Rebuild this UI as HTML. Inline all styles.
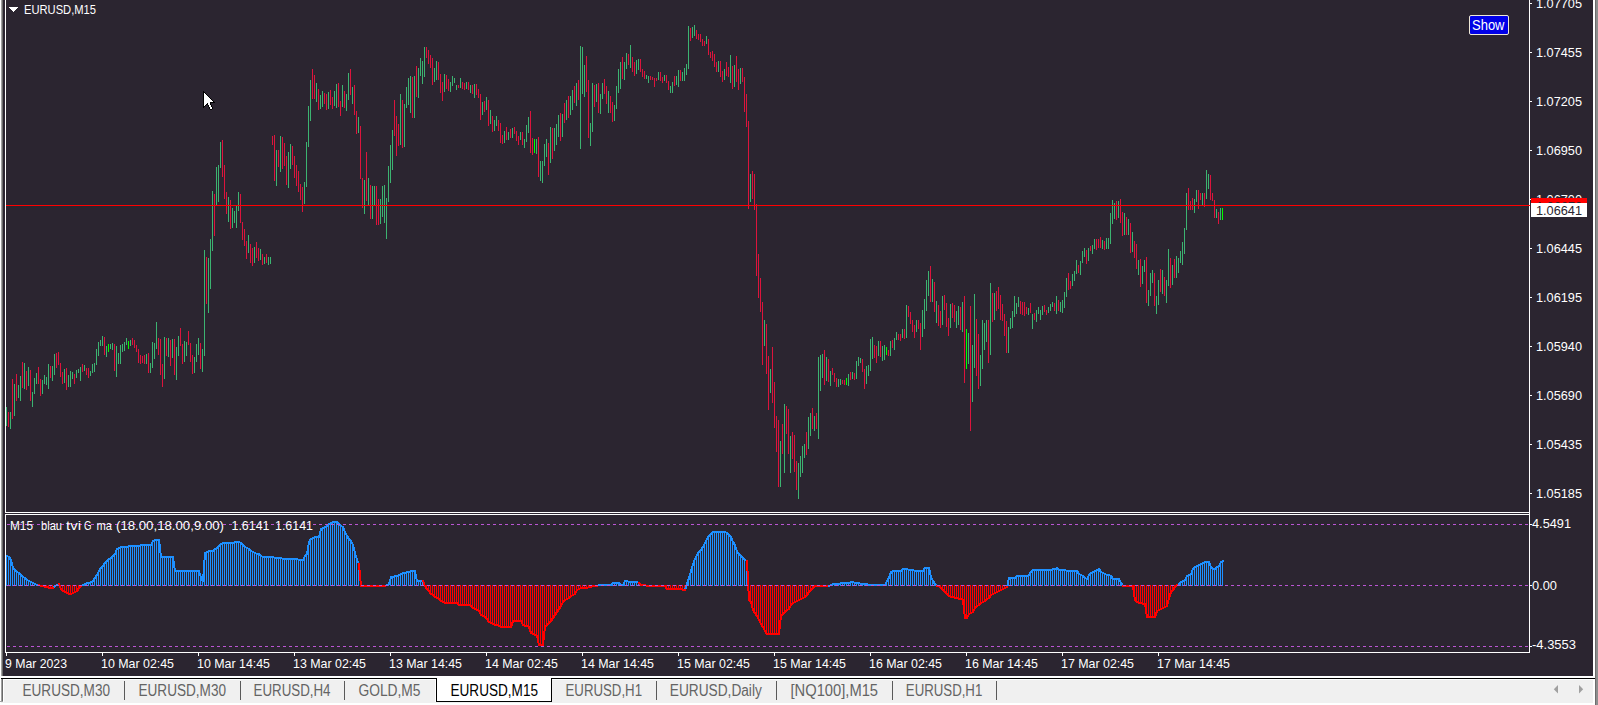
<!DOCTYPE html><html><head><meta charset="utf-8"><title>EURUSD,M15</title>
<style>html,body{margin:0;padding:0;background:#f0f0f0;overflow:hidden}svg{display:block;position:absolute;left:0;top:0}text{font-family:"Liberation Sans", sans-serif;white-space:pre}</style></head><body>
<svg width="1598" height="705" viewBox="0 0 1598 705">
<rect width="1598" height="705" fill="#f0f0f0"/>
<g shape-rendering="crispEdges">
<rect x="0" y="0" width="1" height="705" fill="#ffffff"/>
<rect x="1" y="0" width="1" height="702" fill="#a0a0a0"/>
<rect x="2" y="0" width="1" height="702" fill="#696969"/>
<rect x="0" y="701" width="3" height="1" fill="#a0a0a0"/>
<rect x="3" y="0" width="1590" height="676" fill="#2b2530"/>
<rect x="1593" y="0" width="2" height="705" fill="#ffffff"/>
<rect x="1595" y="0" width="1" height="705" fill="#6d6d6d"/>
<rect x="1596" y="0" width="2" height="705" fill="#8e8e8e"/>
<rect x="0" y="676" width="1595" height="2" fill="#ffffff"/>
<rect x="1" y="678" width="1594" height="1" fill="#000000"/>
<rect x="3" y="679" width="1592" height="1" fill="#ffffff"/>
<rect x="3" y="680" width="1" height="22" fill="#ffffff"/>
<rect x="0" y="703" width="1595" height="2" fill="#ffffff"/>
<rect x="435" y="679" width="1" height="23" fill="#ffffff"/>
<rect x="436" y="678" width="116" height="24" fill="#000000"/>
<rect x="437" y="676" width="114" height="25" fill="#ffffff"/>
<rect x="124" y="681" width="1" height="19" fill="#5a5a5a"/>
<rect x="240" y="681" width="1" height="19" fill="#5a5a5a"/>
<rect x="344" y="681" width="1" height="19" fill="#5a5a5a"/>
<rect x="656" y="681" width="1" height="19" fill="#5a5a5a"/>
<rect x="776" y="681" width="1" height="19" fill="#5a5a5a"/>
<rect x="892" y="681" width="1" height="19" fill="#5a5a5a"/>
<rect x="996" y="681" width="1" height="19" fill="#5a5a5a"/>
<path d="M1558 685v8.5l-4.2-4.25z" fill="#a0a0a0" shape-rendering="auto"/>
<path d="M1579 685v8.5l4.2-4.25z" fill="#a0a0a0" shape-rendering="auto"/>
<rect x="5" y="0" width="1" height="513" fill="#fff"/>
<rect x="5" y="514" width="1" height="139" fill="#fff"/>
<rect x="5" y="512" width="1525" height="1" fill="#fff"/>
<rect x="5" y="514" width="1525" height="1" fill="#fff"/>
<rect x="5" y="652" width="1525" height="1" fill="#fff"/>
<rect x="1529" y="0" width="1" height="653" fill="#fff"/>
<rect x="1530" y="3" width="2" height="1" fill="#fff"/>
<rect x="1530" y="52" width="2" height="1" fill="#fff"/>
<rect x="1530" y="101" width="2" height="1" fill="#fff"/>
<rect x="1530" y="150" width="2" height="1" fill="#fff"/>
<rect x="1530" y="199" width="2" height="1" fill="#fff"/>
<rect x="1530" y="248" width="2" height="1" fill="#fff"/>
<rect x="1530" y="297" width="2" height="1" fill="#fff"/>
<rect x="1530" y="346" width="2" height="1" fill="#fff"/>
<rect x="1530" y="395" width="2" height="1" fill="#fff"/>
<rect x="1530" y="444" width="2" height="1" fill="#fff"/>
<rect x="1530" y="493" width="2" height="1" fill="#fff"/>
<rect x="1530" y="524" width="2" height="1" fill="#fff"/>
<rect x="1530" y="585" width="2" height="1" fill="#fff"/>
<rect x="1530" y="646" width="2" height="1" fill="#fff"/>
<rect x="6" y="653" width="1" height="3" fill="#fff"/>
<rect x="102" y="653" width="1" height="3" fill="#fff"/>
<rect x="198" y="653" width="1" height="3" fill="#fff"/>
<rect x="294" y="653" width="1" height="3" fill="#fff"/>
<rect x="390" y="653" width="1" height="3" fill="#fff"/>
<rect x="486" y="653" width="1" height="3" fill="#fff"/>
<rect x="582" y="653" width="1" height="3" fill="#fff"/>
<rect x="678" y="653" width="1" height="3" fill="#fff"/>
<rect x="774" y="653" width="1" height="3" fill="#fff"/>
<rect x="870" y="653" width="1" height="3" fill="#fff"/>
<rect x="966" y="653" width="1" height="3" fill="#fff"/>
<rect x="1062" y="653" width="1" height="3" fill="#fff"/>
<rect x="1158" y="653" width="1" height="3" fill="#fff"/>
<path d="M6 407h1v19h-1zM10 412h1v17h-1zM14 384h1v32h-1zM18 385h1v13h-1zM20 376h1v25h-1zM24 363h1v26h-1zM28 367h1v19h-1zM32 392h1v15h-1zM34 378h1v16h-1zM36 373h1v11h-1zM42 380h1v14h-1zM44 375h1v9h-1zM46 377h1v8h-1zM48 364h1v25h-1zM52 366h1v15h-1zM54 354h1v21h-1zM64 369h1v14h-1zM68 375h1v12h-1zM70 371h1v16h-1zM72 372h1v7h-1zM76 370h1v8h-1zM78 369h1v4h-1zM80 367h1v14h-1zM84 365h1v6h-1zM90 371h1v5h-1zM92 364h1v9h-1zM94 363h1v9h-1zM96 349h1v16h-1zM98 342h1v14h-1zM100 340h1v6h-1zM102 336h1v10h-1zM106 346h1v11h-1zM110 344h1v5h-1zM112 343h1v7h-1zM116 346h1v31h-1zM118 353h1v11h-1zM120 345h1v19h-1zM122 344h1v8h-1zM124 342h1v9h-1zM126 338h1v7h-1zM130 340h1v6h-1zM146 354h1v10h-1zM150 363h1v10h-1zM152 342h1v26h-1zM154 343h1v16h-1zM156 322h1v27h-1zM164 337h1v42h-1zM168 338h1v19h-1zM172 339h1v19h-1zM176 347h1v33h-1zM178 336h1v20h-1zM184 341h1v21h-1zM186 342h1v14h-1zM194 357h1v16h-1zM196 344h1v18h-1zM198 338h1v17h-1zM202 349h1v23h-1zM204 250h1v106h-1zM208 258h1v55h-1zM210 239h1v50h-1zM212 191h1v60h-1zM216 167h1v39h-1zM218 165h1v37h-1zM220 142h1v26h-1zM228 197h1v25h-1zM232 208h1v20h-1zM234 211h1v12h-1zM236 205h1v23h-1zM238 192h1v19h-1zM248 235h1v18h-1zM254 247h1v16h-1zM260 249h1v11h-1zM264 257h1v7h-1zM268 257h1v8h-1zM270 257h1v7h-1zM276 150h1v36h-1zM280 136h1v36h-1zM288 152h1v36h-1zM290 144h1v25h-1zM304 182h1v22h-1zM306 142h1v45h-1zM308 106h1v41h-1zM310 80h1v41h-1zM316 83h1v19h-1zM320 95h1v14h-1zM322 91h1v16h-1zM328 92h1v17h-1zM334 91h1v15h-1zM336 84h1v24h-1zM342 85h1v22h-1zM346 94h1v17h-1zM348 73h1v27h-1zM352 87h1v17h-1zM358 117h1v16h-1zM364 180h1v34h-1zM368 178h1v27h-1zM372 186h1v33h-1zM374 186h1v20h-1zM380 199h1v25h-1zM382 186h1v31h-1zM384 185h1v38h-1zM386 198h1v41h-1zM388 166h1v36h-1zM390 145h1v38h-1zM392 130h1v40h-1zM400 94h1v51h-1zM404 104h1v43h-1zM406 87h1v21h-1zM408 78h1v27h-1zM410 76h1v37h-1zM414 76h1v42h-1zM418 68h1v30h-1zM420 58h1v18h-1zM422 61h1v23h-1zM424 47h1v30h-1zM434 68h1v14h-1zM436 61h1v19h-1zM444 74h1v18h-1zM450 82h1v10h-1zM452 76h1v10h-1zM454 78h1v5h-1zM456 85h1v5h-1zM460 78h1v10h-1zM466 82h1v7h-1zM470 85h1v8h-1zM474 84h1v14h-1zM482 102h1v13h-1zM486 97h1v13h-1zM490 110h1v14h-1zM494 120h1v11h-1zM496 116h1v10h-1zM504 131h1v12h-1zM508 132h1v8h-1zM512 128h1v10h-1zM520 132h1v8h-1zM524 139h1v9h-1zM526 125h1v17h-1zM528 117h1v16h-1zM536 139h1v15h-1zM540 161h1v20h-1zM542 161h1v22h-1zM544 144h1v22h-1zM546 139h1v18h-1zM550 127h1v36h-1zM554 128h1v23h-1zM556 124h1v21h-1zM558 115h1v22h-1zM562 114h1v23h-1zM566 100h1v20h-1zM570 96h1v19h-1zM572 90h1v20h-1zM576 83h1v23h-1zM580 46h1v103h-1zM582 47h1v47h-1zM584 65h1v32h-1zM590 123h1v23h-1zM592 83h1v49h-1zM596 84h1v18h-1zM600 94h1v20h-1zM602 83h1v16h-1zM608 91h1v22h-1zM614 105h1v16h-1zM616 86h1v23h-1zM618 69h1v24h-1zM620 62h1v27h-1zM624 62h1v18h-1zM626 53h1v16h-1zM630 45h1v23h-1zM636 60h1v14h-1zM638 59h1v11h-1zM646 75h1v4h-1zM648 76h1v7h-1zM658 72h1v8h-1zM664 75h1v6h-1zM670 86h1v7h-1zM672 82h1v11h-1zM676 76h1v9h-1zM678 70h1v17h-1zM682 72h1v9h-1zM684 68h1v13h-1zM686 64h1v11h-1zM688 26h1v43h-1zM692 27h1v11h-1zM694 25h1v11h-1zM706 36h1v8h-1zM718 61h1v11h-1zM724 69h1v11h-1zM730 55h1v28h-1zM734 65h1v22h-1zM740 68h1v16h-1zM750 174h1v28h-1zM764 320h1v26h-1zM770 369h1v24h-1zM780 441h1v46h-1zM784 404h1v69h-1zM790 436h1v37h-1zM798 463h1v36h-1zM800 456h1v21h-1zM802 446h1v27h-1zM804 444h1v14h-1zM808 417h1v32h-1zM810 413h1v23h-1zM814 416h1v15h-1zM818 357h1v82h-1zM820 355h1v36h-1zM822 354h1v24h-1zM826 357h1v24h-1zM830 371h1v15h-1zM838 379h1v8h-1zM840 379h1v6h-1zM848 374h1v12h-1zM852 372h1v7h-1zM856 361h1v18h-1zM858 357h1v9h-1zM860 358h1v5h-1zM866 366h1v18h-1zM868 365h1v11h-1zM870 339h1v32h-1zM872 337h1v22h-1zM878 341h1v15h-1zM882 346h1v15h-1zM884 345h1v15h-1zM890 341h1v15h-1zM894 338h1v12h-1zM896 332h1v8h-1zM902 329h1v9h-1zM906 305h1v33h-1zM916 320h1v12h-1zM922 310h1v27h-1zM924 299h1v30h-1zM926 280h1v31h-1zM928 271h1v25h-1zM932 279h1v23h-1zM936 301h1v22h-1zM942 296h1v29h-1zM950 304h1v24h-1zM956 311h1v17h-1zM958 306h1v19h-1zM962 302h1v30h-1zM968 333h1v31h-1zM972 345h1v57h-1zM974 294h1v74h-1zM980 355h1v31h-1zM982 320h1v49h-1zM984 323h1v27h-1zM986 320h1v22h-1zM990 283h1v72h-1zM994 293h1v27h-1zM1008 327h1v26h-1zM1010 318h1v11h-1zM1012 311h1v17h-1zM1014 296h1v21h-1zM1016 303h1v11h-1zM1018 297h1v10h-1zM1028 308h1v7h-1zM1032 314h1v15h-1zM1036 310h1v12h-1zM1038 307h1v7h-1zM1040 310h1v10h-1zM1042 306h1v9h-1zM1048 307h1v6h-1zM1050 304h1v7h-1zM1052 302h1v5h-1zM1056 296h1v18h-1zM1060 302h1v10h-1zM1062 300h1v13h-1zM1064 292h1v16h-1zM1066 278h1v19h-1zM1072 274h1v12h-1zM1074 271h1v10h-1zM1076 260h1v14h-1zM1080 261h1v14h-1zM1082 251h1v12h-1zM1084 248h1v9h-1zM1088 248h1v13h-1zM1092 245h1v9h-1zM1094 239h1v10h-1zM1102 240h1v9h-1zM1106 238h1v11h-1zM1108 238h1v11h-1zM1110 213h1v31h-1zM1112 200h1v24h-1zM1114 203h1v16h-1zM1118 201h1v17h-1zM1124 213h1v22h-1zM1128 219h1v16h-1zM1132 232h1v20h-1zM1138 260h1v15h-1zM1142 266h1v18h-1zM1144 260h1v12h-1zM1148 290h1v16h-1zM1150 273h1v23h-1zM1152 270h1v13h-1zM1156 296h1v18h-1zM1158 280h1v25h-1zM1162 270h1v24h-1zM1166 280h1v23h-1zM1168 249h1v37h-1zM1172 265h1v20h-1zM1176 256h1v22h-1zM1178 258h1v15h-1zM1180 251h1v12h-1zM1182 242h1v23h-1zM1184 228h1v26h-1zM1186 193h1v37h-1zM1194 199h1v14h-1zM1196 190h1v12h-1zM1202 193h1v12h-1zM1206 170h1v29h-1zM1208 174h1v15h-1zM1216 209h1v9h-1zM1220 208h1v12h-1z" fill="#3cb371"/>
<path d="M8 412h1v15h-1zM12 379h1v40h-1zM16 374h1v27h-1zM22 362h1v26h-1zM26 371h1v19h-1zM30 370h1v31h-1zM38 367h1v17h-1zM40 379h1v17h-1zM50 366h1v12h-1zM56 353h1v15h-1zM58 352h1v13h-1zM60 363h1v14h-1zM62 372h1v12h-1zM66 368h1v22h-1zM74 374h1v10h-1zM82 364h1v8h-1zM86 368h1v7h-1zM88 368h1v10h-1zM104 337h1v18h-1zM114 344h1v27h-1zM132 338h1v7h-1zM134 340h1v8h-1zM136 345h1v7h-1zM138 349h1v14h-1zM140 355h1v9h-1zM142 356h1v7h-1zM144 355h1v9h-1zM148 353h1v20h-1zM158 338h1v17h-1zM160 339h1v36h-1zM162 364h1v23h-1zM166 338h1v18h-1zM170 340h1v26h-1zM174 339h1v36h-1zM180 328h1v18h-1zM182 344h1v20h-1zM188 331h1v14h-1zM190 343h1v19h-1zM192 355h1v19h-1zM200 343h1v26h-1zM206 257h1v47h-1zM214 194h1v42h-1zM222 140h1v37h-1zM224 165h1v34h-1zM226 192h1v22h-1zM230 200h1v29h-1zM240 194h1v29h-1zM242 222h1v18h-1zM244 229h1v17h-1zM246 241h1v18h-1zM250 244h1v19h-1zM252 248h1v18h-1zM256 242h1v16h-1zM258 248h1v13h-1zM262 254h1v11h-1zM266 254h1v9h-1zM272 136h1v9h-1zM274 135h1v46h-1zM278 150h1v17h-1zM282 137h1v32h-1zM284 143h1v23h-1zM286 156h1v29h-1zM292 146h1v19h-1zM294 156h1v22h-1zM296 165h1v21h-1zM298 171h1v21h-1zM300 184h1v16h-1zM302 187h1v25h-1zM312 69h1v30h-1zM314 75h1v24h-1zM318 89h1v21h-1zM324 93h1v11h-1zM326 94h1v16h-1zM330 90h1v15h-1zM332 97h1v12h-1zM338 83h1v24h-1zM340 101h1v15h-1zM344 91h1v17h-1zM350 69h1v26h-1zM354 85h1v30h-1zM356 111h1v23h-1zM360 126h1v53h-1zM362 178h1v30h-1zM366 152h1v49h-1zM370 185h1v34h-1zM376 186h1v39h-1zM378 199h1v26h-1zM394 100h1v36h-1zM396 116h1v40h-1zM398 124h1v22h-1zM402 100h1v48h-1zM412 77h1v41h-1zM416 66h1v31h-1zM426 47h1v11h-1zM428 50h1v14h-1zM430 55h1v13h-1zM432 58h1v27h-1zM438 62h1v18h-1zM440 74h1v19h-1zM442 82h1v19h-1zM446 75h1v14h-1zM448 79h1v12h-1zM458 85h1v3h-1zM462 82h1v7h-1zM464 83h1v7h-1zM468 82h1v8h-1zM472 85h1v9h-1zM476 84h1v11h-1zM478 89h1v9h-1zM480 94h1v26h-1zM484 101h1v11h-1zM488 100h1v26h-1zM492 116h1v16h-1zM498 120h1v11h-1zM500 123h1v20h-1zM502 135h1v9h-1zM506 127h1v13h-1zM510 129h1v9h-1zM514 127h1v7h-1zM516 131h1v10h-1zM518 136h1v9h-1zM522 132h1v13h-1zM530 111h1v42h-1zM532 138h1v17h-1zM538 137h1v40h-1zM548 143h1v32h-1zM552 128h1v31h-1zM560 113h1v28h-1zM564 103h1v20h-1zM568 96h1v22h-1zM574 86h1v17h-1zM578 80h1v20h-1zM586 56h1v36h-1zM588 80h1v58h-1zM594 85h1v22h-1zM598 83h1v30h-1zM604 79h1v15h-1zM606 86h1v18h-1zM610 96h1v17h-1zM612 102h1v20h-1zM622 57h1v22h-1zM628 54h1v11h-1zM632 57h1v15h-1zM634 62h1v14h-1zM640 59h1v13h-1zM642 69h1v8h-1zM644 71h1v8h-1zM650 76h1v4h-1zM652 77h1v3h-1zM654 78h1v9h-1zM656 78h1v3h-1zM660 72h1v9h-1zM662 77h1v6h-1zM666 75h1v8h-1zM668 81h1v9h-1zM674 76h1v10h-1zM680 70h1v11h-1zM690 28h1v13h-1zM696 30h1v9h-1zM698 34h1v6h-1zM700 34h1v8h-1zM702 39h1v7h-1zM704 41h1v5h-1zM708 39h1v16h-1zM710 52h1v6h-1zM712 51h1v10h-1zM714 54h1v13h-1zM716 62h1v10h-1zM720 61h1v16h-1zM722 71h1v11h-1zM726 62h1v14h-1zM728 67h1v10h-1zM732 66h1v23h-1zM736 56h1v26h-1zM738 69h1v21h-1zM742 68h1v14h-1zM744 77h1v35h-1zM746 94h1v33h-1zM748 121h1v88h-1zM752 171h1v28h-1zM754 174h1v36h-1zM756 204h1v72h-1zM758 254h1v44h-1zM760 278h1v34h-1zM762 302h1v63h-1zM766 324h1v50h-1zM768 356h1v54h-1zM772 347h1v56h-1zM774 382h1v46h-1zM776 416h1v36h-1zM778 420h1v67h-1zM782 424h1v30h-1zM786 406h1v28h-1zM788 409h1v45h-1zM792 432h1v27h-1zM794 435h1v37h-1zM796 461h1v29h-1zM806 432h1v23h-1zM812 408h1v21h-1zM816 413h1v16h-1zM824 350h1v35h-1zM828 359h1v23h-1zM832 368h1v7h-1zM834 373h1v9h-1zM836 378h1v9h-1zM842 380h1v4h-1zM844 380h1v5h-1zM850 372h1v8h-1zM854 373h1v7h-1zM862 359h1v13h-1zM864 369h1v20h-1zM874 345h1v13h-1zM876 346h1v17h-1zM880 341h1v16h-1zM888 350h1v6h-1zM892 340h1v8h-1zM898 334h1v6h-1zM900 334h1v7h-1zM904 329h1v10h-1zM908 306h1v11h-1zM910 312h1v12h-1zM912 320h1v12h-1zM914 325h1v13h-1zM918 320h1v9h-1zM920 323h1v27h-1zM930 266h1v36h-1zM934 282h1v30h-1zM938 305h1v21h-1zM940 311h1v17h-1zM944 295h1v15h-1zM946 303h1v24h-1zM948 318h1v18h-1zM952 303h1v15h-1zM954 305h1v17h-1zM960 307h1v23h-1zM964 296h1v87h-1zM970 306h1v125h-1zM976 319h1v57h-1zM978 334h1v55h-1zM988 320h1v43h-1zM992 293h1v29h-1zM996 291h1v20h-1zM998 287h1v22h-1zM1000 295h1v25h-1zM1002 304h1v17h-1zM1004 314h1v22h-1zM1006 321h1v32h-1zM1020 301h1v13h-1zM1022 302h1v13h-1zM1024 302h1v14h-1zM1026 307h1v7h-1zM1030 303h1v10h-1zM1034 313h1v7h-1zM1044 305h1v7h-1zM1046 310h1v5h-1zM1054 303h1v8h-1zM1058 300h1v11h-1zM1068 273h1v17h-1zM1070 281h1v8h-1zM1078 265h1v8h-1zM1086 250h1v14h-1zM1090 246h1v5h-1zM1096 239h1v11h-1zM1098 239h1v9h-1zM1100 237h1v11h-1zM1104 241h1v9h-1zM1116 201h1v19h-1zM1120 199h1v24h-1zM1122 212h1v24h-1zM1126 217h1v18h-1zM1130 223h1v30h-1zM1134 241h1v17h-1zM1136 244h1v25h-1zM1140 259h1v28h-1zM1146 257h1v46h-1zM1154 273h1v33h-1zM1160 269h1v23h-1zM1164 277h1v19h-1zM1170 258h1v30h-1zM1174 259h1v19h-1zM1188 188h1v22h-1zM1190 201h1v9h-1zM1192 198h1v12h-1zM1198 190h1v19h-1zM1200 193h1v7h-1zM1204 193h1v14h-1zM1210 175h1v25h-1zM1212 193h1v8h-1zM1214 200h1v18h-1zM1218 212h1v12h-1z" fill="#dc143c"/>
<path d="M108 344h1v8h-1zM128 341h1v8h-1zM534 139h1v14h-1zM846 378h1v7h-1zM886 347h1v8h-1zM966 329h1v40h-1zM1222 208h1v12h-1z" fill="#00ff00"/>
<rect x="6" y="205" width="1524" height="1" fill="#ff0000"/>
<path d="M6 555h1v31h-1zM8 556h1v30h-1zM10 559h1v27h-1zM12 567h1v19h-1zM14 569h1v17h-1zM16 571h1v15h-1zM18 572h1v14h-1zM20 574h1v12h-1zM22 576h1v10h-1zM24 577h1v9h-1zM26 579h1v7h-1zM28 580h1v6h-1zM30 581h1v5h-1zM32 582h1v4h-1zM34 583h1v3h-1zM36 584h1v2h-1zM38 584h1v2h-1zM54 585h1v1h-1zM56 584h1v2h-1zM58 583h1v3h-1zM82 584h1v2h-1zM84 583h1v3h-1zM86 582h1v4h-1zM88 582h1v4h-1zM90 581h1v5h-1zM92 580h1v6h-1zM94 577h1v9h-1zM96 574h1v12h-1zM98 570h1v16h-1zM100 567h1v19h-1zM102 565h1v21h-1zM104 562h1v24h-1zM106 560h1v26h-1zM108 558h1v28h-1zM110 557h1v29h-1zM112 555h1v31h-1zM114 553h1v33h-1zM116 548h1v38h-1zM118 547h1v39h-1zM120 546h1v40h-1zM122 546h1v40h-1zM124 546h1v40h-1zM126 546h1v40h-1zM128 545h1v41h-1zM130 545h1v41h-1zM132 545h1v41h-1zM134 545h1v41h-1zM136 545h1v41h-1zM138 545h1v41h-1zM140 544h1v42h-1zM142 544h1v42h-1zM144 544h1v42h-1zM146 544h1v42h-1zM148 544h1v42h-1zM150 544h1v42h-1zM152 540h1v46h-1zM154 539h1v47h-1zM156 539h1v47h-1zM158 539h1v47h-1zM160 556h1v30h-1zM162 556h1v30h-1zM164 556h1v30h-1zM166 556h1v30h-1zM168 556h1v30h-1zM170 556h1v30h-1zM172 556h1v30h-1zM174 570h1v16h-1zM176 570h1v16h-1zM178 570h1v16h-1zM180 570h1v16h-1zM182 570h1v16h-1zM184 570h1v16h-1zM186 570h1v16h-1zM188 570h1v16h-1zM190 570h1v16h-1zM192 570h1v16h-1zM194 570h1v16h-1zM196 570h1v16h-1zM198 570h1v16h-1zM200 577h1v9h-1zM202 580h1v6h-1zM204 552h1v34h-1zM206 551h1v35h-1zM208 550h1v36h-1zM210 550h1v36h-1zM212 550h1v36h-1zM214 548h1v38h-1zM216 547h1v39h-1zM218 545h1v41h-1zM220 543h1v43h-1zM222 542h1v44h-1zM224 542h1v44h-1zM226 542h1v44h-1zM228 542h1v44h-1zM230 542h1v44h-1zM232 542h1v44h-1zM234 541h1v45h-1zM236 541h1v45h-1zM238 541h1v45h-1zM240 542h1v44h-1zM242 544h1v42h-1zM244 546h1v40h-1zM246 547h1v39h-1zM248 548h1v38h-1zM250 550h1v36h-1zM252 551h1v35h-1zM254 552h1v34h-1zM256 553h1v33h-1zM258 553h1v33h-1zM260 555h1v31h-1zM262 556h1v30h-1zM264 556h1v30h-1zM266 556h1v30h-1zM268 556h1v30h-1zM270 556h1v30h-1zM272 556h1v30h-1zM274 557h1v29h-1zM276 557h1v29h-1zM278 557h1v29h-1zM280 557h1v29h-1zM282 558h1v28h-1zM284 558h1v28h-1zM286 558h1v28h-1zM288 558h1v28h-1zM290 558h1v28h-1zM292 558h1v28h-1zM294 558h1v28h-1zM296 558h1v28h-1zM298 559h1v27h-1zM300 559h1v27h-1zM302 559h1v27h-1zM304 555h1v31h-1zM306 553h1v33h-1zM308 541h1v45h-1zM310 538h1v48h-1zM312 537h1v49h-1zM314 536h1v50h-1zM316 536h1v50h-1zM318 536h1v50h-1zM320 528h1v58h-1zM322 527h1v59h-1zM324 526h1v60h-1zM326 525h1v61h-1zM328 523h1v63h-1zM330 522h1v64h-1zM332 521h1v65h-1zM334 521h1v65h-1zM336 521h1v65h-1zM338 523h1v63h-1zM340 525h1v61h-1zM342 526h1v60h-1zM344 531h1v55h-1zM346 535h1v51h-1zM348 538h1v48h-1zM350 540h1v46h-1zM352 544h1v42h-1zM354 552h1v34h-1zM356 559h1v27h-1zM358 563h1v23h-1zM386 584h1v2h-1zM388 583h1v3h-1zM390 576h1v10h-1zM392 576h1v10h-1zM394 575h1v11h-1zM396 575h1v11h-1zM398 574h1v12h-1zM400 573h1v13h-1zM402 572h1v14h-1zM404 572h1v14h-1zM406 571h1v15h-1zM408 571h1v15h-1zM410 570h1v16h-1zM412 570h1v16h-1zM414 570h1v16h-1zM416 580h1v6h-1zM418 580h1v6h-1zM420 580h1v6h-1zM422 580h1v6h-1zM598 584h1v2h-1zM600 584h1v2h-1zM602 584h1v2h-1zM604 584h1v2h-1zM606 584h1v2h-1zM608 584h1v2h-1zM610 584h1v2h-1zM612 582h1v4h-1zM614 582h1v4h-1zM616 582h1v4h-1zM618 582h1v4h-1zM620 584h1v2h-1zM622 584h1v2h-1zM624 580h1v6h-1zM626 580h1v6h-1zM628 581h1v5h-1zM630 581h1v5h-1zM632 581h1v5h-1zM634 581h1v5h-1zM636 581h1v5h-1zM638 582h1v4h-1zM686 583h1v3h-1zM688 577h1v9h-1zM690 570h1v16h-1zM692 563h1v23h-1zM694 558h1v28h-1zM696 554h1v32h-1zM698 551h1v35h-1zM700 549h1v37h-1zM702 546h1v40h-1zM704 542h1v44h-1zM706 538h1v48h-1zM708 535h1v51h-1zM710 533h1v53h-1zM712 531h1v55h-1zM714 531h1v55h-1zM716 531h1v55h-1zM718 531h1v55h-1zM720 531h1v55h-1zM722 531h1v55h-1zM724 531h1v55h-1zM726 532h1v54h-1zM728 534h1v52h-1zM730 536h1v50h-1zM732 541h1v45h-1zM734 544h1v42h-1zM736 551h1v35h-1zM738 553h1v33h-1zM740 555h1v31h-1zM742 557h1v29h-1zM744 559h1v27h-1zM746 560h1v26h-1zM828 585h1v1h-1zM830 584h1v2h-1zM832 583h1v3h-1zM834 583h1v3h-1zM836 583h1v3h-1zM838 583h1v3h-1zM840 582h1v4h-1zM842 582h1v4h-1zM844 582h1v4h-1zM846 582h1v4h-1zM848 582h1v4h-1zM850 581h1v5h-1zM852 581h1v5h-1zM854 582h1v4h-1zM856 582h1v4h-1zM858 582h1v4h-1zM860 583h1v3h-1zM862 583h1v3h-1zM864 583h1v3h-1zM866 583h1v3h-1zM868 584h1v2h-1zM870 584h1v2h-1zM872 584h1v2h-1zM874 584h1v2h-1zM876 584h1v2h-1zM878 584h1v2h-1zM880 584h1v2h-1zM882 584h1v2h-1zM884 584h1v2h-1zM886 580h1v6h-1zM888 577h1v9h-1zM890 571h1v15h-1zM892 570h1v16h-1zM894 570h1v16h-1zM896 570h1v16h-1zM898 570h1v16h-1zM900 570h1v16h-1zM902 568h1v18h-1zM904 568h1v18h-1zM906 568h1v18h-1zM908 569h1v17h-1zM910 569h1v17h-1zM912 569h1v17h-1zM914 570h1v16h-1zM916 570h1v16h-1zM918 570h1v16h-1zM920 570h1v16h-1zM922 570h1v16h-1zM924 567h1v19h-1zM926 567h1v19h-1zM928 567h1v19h-1zM930 576h1v10h-1zM932 580h1v6h-1zM934 583h1v3h-1zM936 585h1v1h-1zM1008 577h1v9h-1zM1010 577h1v9h-1zM1012 577h1v9h-1zM1014 577h1v9h-1zM1016 575h1v11h-1zM1018 575h1v11h-1zM1020 575h1v11h-1zM1022 575h1v11h-1zM1024 575h1v11h-1zM1026 575h1v11h-1zM1028 574h1v12h-1zM1030 571h1v15h-1zM1032 569h1v17h-1zM1034 569h1v17h-1zM1036 569h1v17h-1zM1038 569h1v17h-1zM1040 569h1v17h-1zM1042 569h1v17h-1zM1044 569h1v17h-1zM1046 569h1v17h-1zM1048 569h1v17h-1zM1050 569h1v17h-1zM1052 568h1v18h-1zM1054 568h1v18h-1zM1056 567h1v19h-1zM1058 569h1v17h-1zM1060 569h1v17h-1zM1062 569h1v17h-1zM1064 569h1v17h-1zM1066 570h1v16h-1zM1068 570h1v16h-1zM1070 570h1v16h-1zM1072 570h1v16h-1zM1074 570h1v16h-1zM1076 570h1v16h-1zM1078 573h1v13h-1zM1080 574h1v12h-1zM1082 575h1v11h-1zM1084 577h1v9h-1zM1086 578h1v8h-1zM1088 574h1v12h-1zM1090 572h1v14h-1zM1092 571h1v15h-1zM1094 570h1v16h-1zM1096 569h1v17h-1zM1098 568h1v18h-1zM1100 571h1v15h-1zM1102 572h1v14h-1zM1104 573h1v13h-1zM1106 574h1v12h-1zM1108 574h1v12h-1zM1110 575h1v11h-1zM1112 578h1v8h-1zM1114 578h1v8h-1zM1116 578h1v8h-1zM1118 578h1v8h-1zM1120 582h1v4h-1zM1122 585h1v1h-1zM1178 583h1v3h-1zM1180 581h1v5h-1zM1182 580h1v6h-1zM1184 579h1v7h-1zM1186 575h1v11h-1zM1188 574h1v12h-1zM1190 573h1v13h-1zM1192 568h1v18h-1zM1194 566h1v20h-1zM1196 565h1v21h-1zM1198 564h1v22h-1zM1200 563h1v23h-1zM1202 562h1v24h-1zM1204 561h1v25h-1zM1206 561h1v25h-1zM1208 561h1v25h-1zM1210 566h1v20h-1zM1212 568h1v18h-1zM1214 568h1v18h-1zM1216 566h1v20h-1zM1218 565h1v21h-1zM1220 561h1v25h-1zM1222 560h1v26h-1z" fill="#1e90ff"/>
<path d="M40 585h1v2h-1zM42 585h1v2h-1zM44 585h1v3h-1zM46 585h1v3h-1zM48 585h1v4h-1zM50 585h1v4h-1zM52 585h1v4h-1zM60 585h1v5h-1zM62 585h1v7h-1zM64 585h1v8h-1zM66 585h1v9h-1zM68 585h1v10h-1zM70 585h1v10h-1zM72 585h1v9h-1zM74 585h1v8h-1zM76 585h1v7h-1zM78 585h1v4h-1zM80 585h1v2h-1zM360 585h1v2h-1zM362 585h1v2h-1zM364 585h1v2h-1zM366 585h1v2h-1zM368 585h1v2h-1zM370 585h1v2h-1zM372 585h1v2h-1zM374 585h1v2h-1zM376 585h1v2h-1zM378 585h1v2h-1zM380 585h1v2h-1zM382 585h1v2h-1zM384 585h1v2h-1zM424 585h1v2h-1zM426 585h1v5h-1zM428 585h1v7h-1zM430 585h1v10h-1zM432 585h1v11h-1zM434 585h1v13h-1zM436 585h1v14h-1zM438 585h1v15h-1zM440 585h1v17h-1zM442 585h1v18h-1zM444 585h1v19h-1zM446 585h1v19h-1zM448 585h1v19h-1zM450 585h1v19h-1zM452 585h1v19h-1zM454 585h1v19h-1zM456 585h1v19h-1zM458 585h1v21h-1zM460 585h1v21h-1zM462 585h1v21h-1zM464 585h1v21h-1zM466 585h1v21h-1zM468 585h1v21h-1zM470 585h1v22h-1zM472 585h1v24h-1zM474 585h1v25h-1zM476 585h1v26h-1zM478 585h1v27h-1zM480 585h1v31h-1zM482 585h1v32h-1zM484 585h1v33h-1zM486 585h1v35h-1zM488 585h1v38h-1zM490 585h1v39h-1zM492 585h1v40h-1zM494 585h1v41h-1zM496 585h1v41h-1zM498 585h1v42h-1zM500 585h1v43h-1zM502 585h1v43h-1zM504 585h1v43h-1zM506 585h1v43h-1zM508 585h1v43h-1zM510 585h1v43h-1zM512 585h1v37h-1zM514 585h1v37h-1zM516 585h1v37h-1zM518 585h1v37h-1zM520 585h1v37h-1zM522 585h1v41h-1zM524 585h1v42h-1zM526 585h1v42h-1zM528 585h1v43h-1zM530 585h1v49h-1zM532 585h1v50h-1zM534 585h1v51h-1zM536 585h1v52h-1zM538 585h1v61h-1zM540 585h1v61h-1zM542 585h1v61h-1zM544 585h1v43h-1zM546 585h1v41h-1zM548 585h1v39h-1zM550 585h1v37h-1zM552 585h1v34h-1zM554 585h1v31h-1zM556 585h1v28h-1zM558 585h1v25h-1zM560 585h1v22h-1zM562 585h1v18h-1zM564 585h1v16h-1zM566 585h1v15h-1zM568 585h1v14h-1zM570 585h1v12h-1zM572 585h1v11h-1zM574 585h1v10h-1zM576 585h1v6h-1zM578 585h1v5h-1zM580 585h1v4h-1zM582 585h1v4h-1zM584 585h1v4h-1zM586 585h1v4h-1zM588 585h1v3h-1zM590 585h1v3h-1zM592 585h1v2h-1zM594 585h1v2h-1zM596 585h1v2h-1zM640 585h1v1h-1zM642 585h1v1h-1zM644 585h1v1h-1zM646 585h1v2h-1zM648 585h1v2h-1zM650 585h1v2h-1zM652 585h1v2h-1zM654 585h1v2h-1zM656 585h1v2h-1zM658 585h1v2h-1zM660 585h1v2h-1zM662 585h1v2h-1zM664 585h1v2h-1zM666 585h1v5h-1zM668 585h1v5h-1zM670 585h1v5h-1zM672 585h1v5h-1zM674 585h1v5h-1zM676 585h1v5h-1zM678 585h1v5h-1zM680 585h1v5h-1zM682 585h1v6h-1zM684 585h1v6h-1zM748 585h1v16h-1zM750 585h1v18h-1zM752 585h1v26h-1zM754 585h1v29h-1zM756 585h1v32h-1zM758 585h1v36h-1zM760 585h1v40h-1zM762 585h1v43h-1zM764 585h1v47h-1zM766 585h1v50h-1zM768 585h1v50h-1zM770 585h1v50h-1zM772 585h1v50h-1zM774 585h1v50h-1zM776 585h1v50h-1zM778 585h1v50h-1zM780 585h1v32h-1zM782 585h1v30h-1zM784 585h1v28h-1zM786 585h1v26h-1zM788 585h1v25h-1zM790 585h1v21h-1zM792 585h1v19h-1zM794 585h1v18h-1zM796 585h1v17h-1zM798 585h1v16h-1zM800 585h1v15h-1zM802 585h1v14h-1zM804 585h1v13h-1zM806 585h1v11h-1zM808 585h1v8h-1zM810 585h1v6h-1zM812 585h1v4h-1zM814 585h1v2h-1zM816 585h1v2h-1zM818 585h1v2h-1zM820 585h1v2h-1zM822 585h1v2h-1zM824 585h1v2h-1zM826 585h1v2h-1zM938 585h1v2h-1zM940 585h1v4h-1zM942 585h1v6h-1zM944 585h1v8h-1zM946 585h1v10h-1zM948 585h1v12h-1zM950 585h1v13h-1zM952 585h1v13h-1zM954 585h1v14h-1zM956 585h1v14h-1zM958 585h1v15h-1zM960 585h1v15h-1zM962 585h1v16h-1zM964 585h1v34h-1zM966 585h1v34h-1zM968 585h1v30h-1zM970 585h1v29h-1zM972 585h1v28h-1zM974 585h1v24h-1zM976 585h1v22h-1zM978 585h1v21h-1zM980 585h1v19h-1zM982 585h1v18h-1zM984 585h1v17h-1zM986 585h1v15h-1zM988 585h1v14h-1zM990 585h1v11h-1zM992 585h1v10h-1zM994 585h1v9h-1zM996 585h1v8h-1zM998 585h1v7h-1zM1000 585h1v6h-1zM1002 585h1v5h-1zM1004 585h1v4h-1zM1006 585h1v3h-1zM1124 585h1v2h-1zM1126 585h1v2h-1zM1128 585h1v2h-1zM1130 585h1v2h-1zM1132 585h1v2h-1zM1134 585h1v16h-1zM1136 585h1v18h-1zM1138 585h1v19h-1zM1140 585h1v19h-1zM1142 585h1v20h-1zM1144 585h1v20h-1zM1146 585h1v33h-1zM1148 585h1v33h-1zM1150 585h1v33h-1zM1152 585h1v33h-1zM1154 585h1v33h-1zM1156 585h1v27h-1zM1158 585h1v26h-1zM1160 585h1v25h-1zM1162 585h1v24h-1zM1164 585h1v23h-1zM1166 585h1v22h-1zM1168 585h1v14h-1zM1170 585h1v8h-1zM1172 585h1v6h-1zM1174 585h1v3h-1zM1176 585h1v1h-1z" fill="#ff0000"/>
<path d="M7 556 L9 557 L11 560 L13 568 L15 570 L17 572 L19 573 L21 575 L23 577 L25 578 L27 580 L29 581 L31 582 L33 583 L35 584 L37 585 L39 585" fill="none" stroke="#1e90ff" stroke-width="2" stroke-linejoin="round" stroke-linecap="square"/><path d="M53 588 L55 586 L57 585 L59 584" fill="none" stroke="#1e90ff" stroke-width="2" stroke-linejoin="round" stroke-linecap="square"/><path d="M81 586 L83 585 L85 584 L87 583 L89 583 L91 582 L93 581 L95 578 L97 575 L99 571 L101 568 L103 566 L105 563 L107 561 L109 559 L111 558 L113 556 L115 554 L117 549 L119 548 L121 547 L123 547 L125 547 L127 547 L129 546 L131 546 L133 546 L135 546 L137 546 L139 546 L141 545 L143 545 L145 545 L147 545 L149 545 L151 545 L153 541 L155 540 L157 540 L159 540 L161 557 L163 557 L165 557 L167 557 L169 557 L171 557 L173 557 L175 571 L177 571 L179 571 L181 571 L183 571 L185 571 L187 571 L189 571 L191 571 L193 571 L195 571 L197 571 L199 571 L201 578 L203 581 L205 553 L207 552 L209 551 L211 551 L213 551 L215 549 L217 548 L219 546 L221 544 L223 543 L225 543 L227 543 L229 543 L231 543 L233 543 L235 542 L237 542 L239 542 L241 543 L243 545 L245 547 L247 548 L249 549 L251 551 L253 552 L255 553 L257 554 L259 554 L261 556 L263 557 L265 557 L267 557 L269 557 L271 557 L273 557 L275 558 L277 558 L279 558 L281 558 L283 559 L285 559 L287 559 L289 559 L291 559 L293 559 L295 559 L297 559 L299 560 L301 560 L303 560 L305 556 L307 554 L309 542 L311 539 L313 538 L315 537 L317 537 L319 537 L321 529 L323 528 L325 527 L327 526 L329 524 L331 523 L333 522 L335 522 L337 522 L339 524 L341 526 L343 527 L345 532 L347 536 L349 539 L351 541 L353 545 L355 553 L357 560 L359 564" fill="none" stroke="#1e90ff" stroke-width="2" stroke-linejoin="round" stroke-linecap="square"/><path d="M385 586 L387 585 L389 584 L391 577 L393 577 L395 576 L397 576 L399 575 L401 574 L403 573 L405 573 L407 572 L409 572 L411 571 L413 571 L415 571 L417 581 L419 581 L421 581 L423 581" fill="none" stroke="#1e90ff" stroke-width="2" stroke-linejoin="round" stroke-linecap="square"/><path d="M597 586 L599 585 L601 585 L603 585 L605 585 L607 585 L609 585 L611 585 L613 583 L615 583 L617 583 L619 583 L621 585 L623 585 L625 581 L627 581 L629 582 L631 582 L633 582 L635 582 L637 582 L639 583" fill="none" stroke="#1e90ff" stroke-width="2" stroke-linejoin="round" stroke-linecap="square"/><path d="M685 590 L687 584 L689 578 L691 571 L693 564 L695 559 L697 555 L699 552 L701 550 L703 547 L705 543 L707 539 L709 536 L711 534 L713 532 L715 532 L717 532 L719 532 L721 532 L723 532 L725 532 L727 533 L729 535 L731 537 L733 542 L735 545 L737 552 L739 554 L741 556 L743 558 L745 560 L747 561" fill="none" stroke="#1e90ff" stroke-width="2" stroke-linejoin="round" stroke-linecap="square"/><path d="M827 586 L829 586 L831 585 L833 584 L835 584 L837 584 L839 584 L841 583 L843 583 L845 583 L847 583 L849 583 L851 582 L853 582 L855 583 L857 583 L859 583 L861 584 L863 584 L865 584 L867 584 L869 585 L871 585 L873 585 L875 585 L877 585 L879 585 L881 585 L883 585 L885 585 L887 581 L889 578 L891 572 L893 571 L895 571 L897 571 L899 571 L901 571 L903 569 L905 569 L907 569 L909 570 L911 570 L913 570 L915 571 L917 571 L919 571 L921 571 L923 571 L925 568 L927 568 L929 568 L931 577 L933 581 L935 584 L937 586" fill="none" stroke="#1e90ff" stroke-width="2" stroke-linejoin="round" stroke-linecap="square"/><path d="M1007 587 L1009 578 L1011 578 L1013 578 L1015 578 L1017 576 L1019 576 L1021 576 L1023 576 L1025 576 L1027 576 L1029 575 L1031 572 L1033 570 L1035 570 L1037 570 L1039 570 L1041 570 L1043 570 L1045 570 L1047 570 L1049 570 L1051 570 L1053 569 L1055 569 L1057 568 L1059 570 L1061 570 L1063 570 L1065 570 L1067 571 L1069 571 L1071 571 L1073 571 L1075 571 L1077 571 L1079 574 L1081 575 L1083 576 L1085 578 L1087 579 L1089 575 L1091 573 L1093 572 L1095 571 L1097 570 L1099 569 L1101 572 L1103 573 L1105 574 L1107 575 L1109 575 L1111 576 L1113 579 L1115 579 L1117 579 L1119 579 L1121 583 L1123 586" fill="none" stroke="#1e90ff" stroke-width="2" stroke-linejoin="round" stroke-linecap="square"/><path d="M1177 585 L1179 584 L1181 582 L1183 581 L1185 580 L1187 576 L1189 575 L1191 574 L1193 569 L1195 567 L1197 566 L1199 565 L1201 564 L1203 563 L1205 562 L1207 562 L1209 562 L1211 567 L1213 569 L1215 569 L1217 567 L1219 566 L1221 562 L1223 561" fill="none" stroke="#1e90ff" stroke-width="2" stroke-linejoin="round" stroke-linecap="square"/>
<path d="M39 585 L41 586 L43 586 L45 587 L47 587 L49 588 L51 588 L53 588" fill="none" stroke="#ff0000" stroke-width="2" stroke-linejoin="round" stroke-linecap="square"/><path d="M59 584 L61 589 L63 591 L65 592 L67 593 L69 594 L71 594 L73 593 L75 592 L77 591 L79 588 L81 586" fill="none" stroke="#ff0000" stroke-width="2" stroke-linejoin="round" stroke-linecap="square"/><path d="M359 564 L361 586 L363 586 L365 586 L367 586 L369 586 L371 586 L373 586 L375 586 L377 586 L379 586 L381 586 L383 586 L385 586" fill="none" stroke="#ff0000" stroke-width="2" stroke-linejoin="round" stroke-linecap="square"/><path d="M423 581 L425 586 L427 589 L429 591 L431 594 L433 595 L435 597 L437 598 L439 599 L441 601 L443 602 L445 603 L447 603 L449 603 L451 603 L453 603 L455 603 L457 603 L459 605 L461 605 L463 605 L465 605 L467 605 L469 605 L471 606 L473 608 L475 609 L477 610 L479 611 L481 615 L483 616 L485 617 L487 619 L489 622 L491 623 L493 624 L495 625 L497 625 L499 626 L501 627 L503 627 L505 627 L507 627 L509 627 L511 627 L513 621 L515 621 L517 621 L519 621 L521 621 L523 625 L525 626 L527 626 L529 627 L531 633 L533 634 L535 635 L537 636 L539 645 L541 645 L543 645 L545 627 L547 625 L549 623 L551 621 L553 618 L555 615 L557 612 L559 609 L561 606 L563 602 L565 600 L567 599 L569 598 L571 596 L573 595 L575 594 L577 590 L579 589 L581 588 L583 588 L585 588 L587 588 L589 587 L591 587 L593 586 L595 586 L597 586" fill="none" stroke="#ff0000" stroke-width="2" stroke-linejoin="round" stroke-linecap="square"/><path d="M639 583 L641 585 L643 585 L645 585 L647 586 L649 586 L651 586 L653 586 L655 586 L657 586 L659 586 L661 586 L663 586 L665 586 L667 589 L669 589 L671 589 L673 589 L675 589 L677 589 L679 589 L681 589 L683 590 L685 590" fill="none" stroke="#ff0000" stroke-width="2" stroke-linejoin="round" stroke-linecap="square"/><path d="M747 561 L749 600 L751 602 L753 610 L755 613 L757 616 L759 620 L761 624 L763 627 L765 631 L767 634 L769 634 L771 634 L773 634 L775 634 L777 634 L779 634 L781 616 L783 614 L785 612 L787 610 L789 609 L791 605 L793 603 L795 602 L797 601 L799 600 L801 599 L803 598 L805 597 L807 595 L809 592 L811 590 L813 588 L815 586 L817 586 L819 586 L821 586 L823 586 L825 586 L827 586" fill="none" stroke="#ff0000" stroke-width="2" stroke-linejoin="round" stroke-linecap="square"/><path d="M937 586 L939 586 L941 588 L943 590 L945 592 L947 594 L949 596 L951 597 L953 597 L955 598 L957 598 L959 599 L961 599 L963 600 L965 618 L967 618 L969 614 L971 613 L973 612 L975 608 L977 606 L979 605 L981 603 L983 602 L985 601 L987 599 L989 598 L991 595 L993 594 L995 593 L997 592 L999 591 L1001 590 L1003 589 L1005 588 L1007 587" fill="none" stroke="#ff0000" stroke-width="2" stroke-linejoin="round" stroke-linecap="square"/><path d="M1123 586 L1125 586 L1127 586 L1129 586 L1131 586 L1133 586 L1135 600 L1137 602 L1139 603 L1141 603 L1143 604 L1145 604 L1147 617 L1149 617 L1151 617 L1153 617 L1155 617 L1157 611 L1159 610 L1161 609 L1163 608 L1165 607 L1167 606 L1169 598 L1171 592 L1173 590 L1175 587 L1177 585" fill="none" stroke="#ff0000" stroke-width="2" stroke-linejoin="round" stroke-linecap="square"/>
<path d="M7 524.5H1529" stroke="#ba55d3" stroke-width="1" stroke-dasharray="3 3" fill="none"/>
<path d="M7 585.5H1529" stroke="#ba55d3" stroke-width="1" stroke-dasharray="3 3" fill="none"/>
<path d="M7 646.5H1529" stroke="#ba55d3" stroke-width="1" stroke-dasharray="3 3" fill="none"/>
</g>
<path d="M9 7h9l-4.5 5z" fill="#fff" shape-rendering="crispEdges"/>
<text x="24" y="14" font-size="13" fill="#fff" textLength="72" lengthAdjust="spacingAndGlyphs">EURUSD,M15</text>
<text x="1536" y="8" font-size="13" fill="#fff" textLength="46" lengthAdjust="spacingAndGlyphs">1.07705</text>
<text x="1536" y="57" font-size="13" fill="#fff" textLength="46" lengthAdjust="spacingAndGlyphs">1.07455</text>
<text x="1536" y="106" font-size="13" fill="#fff" textLength="46" lengthAdjust="spacingAndGlyphs">1.07205</text>
<text x="1536" y="155" font-size="13" fill="#fff" textLength="46" lengthAdjust="spacingAndGlyphs">1.06950</text>
<text x="1536" y="204" font-size="13" fill="#fff" textLength="46" lengthAdjust="spacingAndGlyphs">1.06700</text>
<text x="1536" y="253" font-size="13" fill="#fff" textLength="46" lengthAdjust="spacingAndGlyphs">1.06445</text>
<text x="1536" y="302" font-size="13" fill="#fff" textLength="46" lengthAdjust="spacingAndGlyphs">1.06195</text>
<text x="1536" y="351" font-size="13" fill="#fff" textLength="46" lengthAdjust="spacingAndGlyphs">1.05940</text>
<text x="1536" y="400" font-size="13" fill="#fff" textLength="46" lengthAdjust="spacingAndGlyphs">1.05690</text>
<text x="1536" y="449" font-size="13" fill="#fff" textLength="46" lengthAdjust="spacingAndGlyphs">1.05435</text>
<text x="1536" y="498" font-size="13" fill="#fff" textLength="46" lengthAdjust="spacingAndGlyphs">1.05185</text>
<rect x="1531" y="198" width="56" height="5" fill="#ff0000" shape-rendering="crispEdges"/>
<clipPath id="rb"><rect x="1531" y="198" width="56" height="5"/></clipPath>
<text x="1536" y="211" font-size="13" fill="#2b2530" textLength="46" lengthAdjust="spacingAndGlyphs" clip-path="url(#rb)">1.06670</text>
<rect x="1531" y="203" width="56" height="14" fill="#ffffff" shape-rendering="crispEdges"/>
<text x="1536" y="215" font-size="13" fill="#2b2530" textLength="46" lengthAdjust="spacingAndGlyphs">1.06641</text>
<text x="1532" y="528" font-size="13" fill="#fff" textLength="39" lengthAdjust="spacingAndGlyphs">4.5491</text>
<text x="1532" y="590" font-size="13" fill="#fff" textLength="25" lengthAdjust="spacingAndGlyphs">0.00</text>
<text x="1532" y="649" font-size="13" fill="#fff" textLength="44" lengthAdjust="spacingAndGlyphs">-4.3553</text>
<text y="530" font-size="13" fill="#fff"><tspan x="10" textLength="23" lengthAdjust="spacingAndGlyphs">M15</tspan><tspan x="41" textLength="21" lengthAdjust="spacingAndGlyphs">blau</tspan><tspan x="66" textLength="15" lengthAdjust="spacingAndGlyphs">tvi</tspan><tspan x="84" textLength="7.5" lengthAdjust="spacingAndGlyphs">G</tspan><tspan x="96.5" textLength="15.5" lengthAdjust="spacingAndGlyphs">ma</tspan><tspan x="116" textLength="108" lengthAdjust="spacingAndGlyphs">(18.00,18.00,9.00)</tspan><tspan x="231.5" textLength="38" lengthAdjust="spacingAndGlyphs">1.6141</tspan><tspan x="275" textLength="38" lengthAdjust="spacingAndGlyphs">1.6141</tspan></text>
<text x="5" y="668" font-size="13" fill="#fff" textLength="62" lengthAdjust="spacingAndGlyphs">9 Mar 2023</text>
<text x="101" y="668" font-size="13" fill="#fff" textLength="73" lengthAdjust="spacingAndGlyphs">10 Mar 02:45</text>
<text x="197" y="668" font-size="13" fill="#fff" textLength="73" lengthAdjust="spacingAndGlyphs">10 Mar 14:45</text>
<text x="293" y="668" font-size="13" fill="#fff" textLength="73" lengthAdjust="spacingAndGlyphs">13 Mar 02:45</text>
<text x="389" y="668" font-size="13" fill="#fff" textLength="73" lengthAdjust="spacingAndGlyphs">13 Mar 14:45</text>
<text x="485" y="668" font-size="13" fill="#fff" textLength="73" lengthAdjust="spacingAndGlyphs">14 Mar 02:45</text>
<text x="581" y="668" font-size="13" fill="#fff" textLength="73" lengthAdjust="spacingAndGlyphs">14 Mar 14:45</text>
<text x="677" y="668" font-size="13" fill="#fff" textLength="73" lengthAdjust="spacingAndGlyphs">15 Mar 02:45</text>
<text x="773" y="668" font-size="13" fill="#fff" textLength="73" lengthAdjust="spacingAndGlyphs">15 Mar 14:45</text>
<text x="869" y="668" font-size="13" fill="#fff" textLength="73" lengthAdjust="spacingAndGlyphs">16 Mar 02:45</text>
<text x="965" y="668" font-size="13" fill="#fff" textLength="73" lengthAdjust="spacingAndGlyphs">16 Mar 14:45</text>
<text x="1061" y="668" font-size="13" fill="#fff" textLength="73" lengthAdjust="spacingAndGlyphs">17 Mar 02:45</text>
<text x="1157" y="668" font-size="13" fill="#fff" textLength="73" lengthAdjust="spacingAndGlyphs">17 Mar 14:45</text>
<rect x="1469.5" y="15.5" width="39" height="19" rx="1.5" fill="#0000e6" stroke="#eee8d5" stroke-width="1"/>
<text x="1472" y="30" font-size="14.5" fill="#fff" textLength="32.5" lengthAdjust="spacingAndGlyphs">Show</text>
<text x="22.5" y="696" font-size="16" fill="#646464" textLength="87.5" lengthAdjust="spacingAndGlyphs">EURUSD,M30</text>
<text x="138.5" y="696" font-size="16" fill="#646464" textLength="87.5" lengthAdjust="spacingAndGlyphs">EURUSD,M30</text>
<text x="253.5" y="696" font-size="16" fill="#646464" textLength="77" lengthAdjust="spacingAndGlyphs">EURUSD,H4</text>
<text x="358.5" y="696" font-size="16" fill="#646464" textLength="62" lengthAdjust="spacingAndGlyphs">GOLD,M5</text>
<text x="450.5" y="696" font-size="16" fill="#000" textLength="87.5" lengthAdjust="spacingAndGlyphs">EURUSD,M15</text>
<text x="565.5" y="696" font-size="16" fill="#646464" textLength="76.5" lengthAdjust="spacingAndGlyphs">EURUSD,H1</text>
<text x="669.8" y="696" font-size="16" fill="#646464" textLength="92" lengthAdjust="spacingAndGlyphs">EURUSD,Daily</text>
<text x="790.5" y="696" font-size="16" fill="#646464" textLength="87.5" lengthAdjust="spacingAndGlyphs">[NQ100],M15</text>
<text x="905.8" y="696" font-size="16" fill="#646464" textLength="76.5" lengthAdjust="spacingAndGlyphs">EURUSD,H1</text>
<g shape-rendering="crispEdges"><path d="M203 91h1v1h-1zM203 92h1v1h-1zM204 92h1v1h-1zM203 93h1v1h-1zM205 93h1v1h-1zM203 94h1v1h-1zM206 94h1v1h-1zM203 95h1v1h-1zM207 95h1v1h-1zM203 96h1v1h-1zM208 96h1v1h-1zM203 97h1v1h-1zM209 97h1v1h-1zM203 98h1v1h-1zM210 98h1v1h-1zM203 99h1v1h-1zM211 99h1v1h-1zM203 100h1v1h-1zM212 100h1v1h-1zM203 101h1v1h-1zM213 101h1v1h-1zM203 102h1v1h-1zM210 102h1v1h-1zM211 102h1v1h-1zM212 102h1v1h-1zM213 102h1v1h-1zM214 102h1v1h-1zM203 103h1v1h-1zM207 103h1v1h-1zM210 103h1v1h-1zM203 104h1v1h-1zM206 104h1v1h-1zM207 104h1v1h-1zM210 104h1v1h-1zM203 105h1v1h-1zM205 105h1v1h-1zM208 105h1v1h-1zM211 105h1v1h-1zM203 106h1v1h-1zM204 106h1v1h-1zM208 106h1v1h-1zM211 106h1v1h-1zM203 107h1v1h-1zM209 107h1v1h-1zM212 107h1v1h-1zM209 108h1v1h-1zM212 108h1v1h-1zM210 109h1v1h-1zM211 109h1v1h-1z" fill="#000"/><path d="M204 93h1v1h-1zM204 94h1v1h-1zM205 94h1v1h-1zM204 95h1v1h-1zM205 95h1v1h-1zM206 95h1v1h-1zM204 96h1v1h-1zM205 96h1v1h-1zM206 96h1v1h-1zM207 96h1v1h-1zM204 97h1v1h-1zM205 97h1v1h-1zM206 97h1v1h-1zM207 97h1v1h-1zM208 97h1v1h-1zM204 98h1v1h-1zM205 98h1v1h-1zM206 98h1v1h-1zM207 98h1v1h-1zM208 98h1v1h-1zM209 98h1v1h-1zM204 99h1v1h-1zM205 99h1v1h-1zM206 99h1v1h-1zM207 99h1v1h-1zM208 99h1v1h-1zM209 99h1v1h-1zM210 99h1v1h-1zM204 100h1v1h-1zM205 100h1v1h-1zM206 100h1v1h-1zM207 100h1v1h-1zM208 100h1v1h-1zM209 100h1v1h-1zM210 100h1v1h-1zM211 100h1v1h-1zM204 101h1v1h-1zM205 101h1v1h-1zM206 101h1v1h-1zM207 101h1v1h-1zM208 101h1v1h-1zM209 101h1v1h-1zM210 101h1v1h-1zM211 101h1v1h-1zM212 101h1v1h-1zM204 102h1v1h-1zM205 102h1v1h-1zM206 102h1v1h-1zM207 102h1v1h-1zM208 102h1v1h-1zM209 102h1v1h-1zM204 103h1v1h-1zM205 103h1v1h-1zM206 103h1v1h-1zM208 103h1v1h-1zM209 103h1v1h-1zM204 104h1v1h-1zM205 104h1v1h-1zM208 104h1v1h-1zM209 104h1v1h-1zM204 105h1v1h-1zM209 105h1v1h-1zM210 105h1v1h-1zM209 106h1v1h-1zM210 106h1v1h-1zM210 107h1v1h-1zM211 107h1v1h-1zM210 108h1v1h-1zM211 108h1v1h-1z" fill="#fff"/></g>
</svg></body></html>
